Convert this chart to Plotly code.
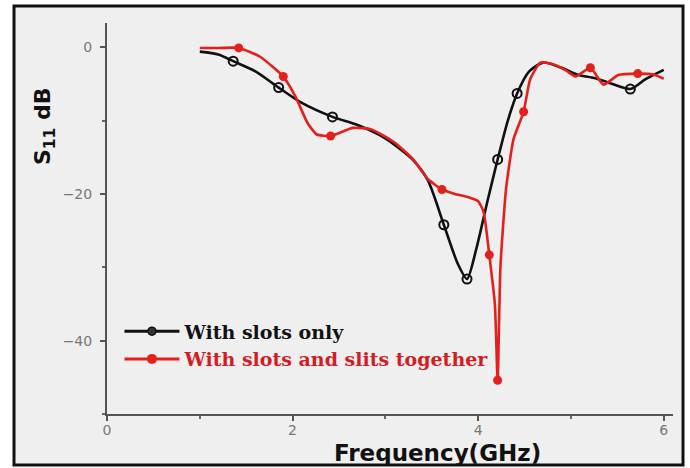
import plotly.graph_objects as go

# ---- data ----
freq_slots = [1.00, 1.20, 1.36, 1.60, 1.85, 2.10, 2.43, 2.70, 2.94, 3.15, 3.30, 3.46,
              3.63, 3.78, 3.88, 3.98, 4.10, 4.21, 4.32, 4.42, 4.55, 4.70, 4.90, 5.08,
              5.25, 5.40, 5.64, 5.80, 6.00]
s11_slots = [-0.6, -1.0, -1.9, -3.3, -5.5, -7.6, -9.5, -10.6, -12.0, -13.8, -15.4, -18.2,
             -24.2, -29.5, -31.6, -27.5, -21.0, -15.3, -10.0, -6.3, -3.3, -2.1, -2.8, -3.8,
             -4.2, -4.8, -5.7, -4.4, -3.1]
marker_idx_slots = [2, 4, 6, 12, 14, 17, 19, 26]

freq_slits = [1.00, 1.20, 1.42, 1.65, 1.90, 2.03, 2.16, 2.26, 2.41, 2.65, 2.85, 3.10,
              3.30, 3.46, 3.61, 3.75, 3.88, 4.00, 4.06, 4.12, 4.18, 4.21, 4.24, 4.30,
              4.38, 4.49, 4.56, 4.67, 4.80, 4.95, 5.05, 5.21, 5.35, 5.51, 5.72, 5.88, 6.00]
s11_slits = [-0.1, -0.1, -0.1, -1.3, -4.0, -6.7, -10.3, -11.9, -12.1, -11.0, -11.2, -13.0,
             -15.3, -18.0, -19.4, -20.0, -20.4, -21.0, -22.5, -28.3, -35.0, -45.4, -30.0, -19.4,
             -12.6, -8.8, -4.4, -2.1, -2.3, -3.2, -4.0, -2.8, -5.1, -3.8, -3.6, -3.7, -4.3]
marker_idx_slits = [2, 4, 8, 14, 19, 21, 25, 31, 34]

name_slots = "With slots only"
name_slits = "With slots and slits together"
x_ticks = [0, 2, 4, 6]
y_ticks = [-40, -20, 0]

BLACK = "#111111"
RED = "#e3201b"

fig = go.Figure()

# curves
fig.add_trace(go.Scatter(x=freq_slots, y=s11_slots, mode="lines",
                         line=dict(color=BLACK, width=2.6, shape="spline", smoothing=0.7),
                         showlegend=False, hoverinfo="skip"))
fig.add_trace(go.Scatter(x=freq_slits, y=s11_slits, mode="lines",
                         line=dict(color=RED, width=2.6, shape="spline", smoothing=0.5),
                         showlegend=False, hoverinfo="skip"))
# markers
fig.add_trace(go.Scatter(x=[freq_slots[i] for i in marker_idx_slots],
                         y=[s11_slots[i] for i in marker_idx_slots], mode="markers",
                         marker=dict(symbol="circle-open", size=9, color=BLACK, line=dict(width=2)),
                         showlegend=False))
fig.add_trace(go.Scatter(x=[freq_slits[i] for i in marker_idx_slits],
                         y=[s11_slits[i] for i in marker_idx_slits], mode="markers",
                         marker=dict(symbol="circle", size=9, color=RED),
                         showlegend=False))
# legend entries
fig.add_trace(go.Scatter(x=[None], y=[None], mode="lines+markers",
                         line=dict(color=BLACK, width=3),
                         marker=dict(symbol="circle", size=8, color="#333333", line=dict(color=BLACK, width=1.5)),
                         name="<b>" + name_slots + "</b>"))
fig.add_trace(go.Scatter(x=[None], y=[None], mode="lines+markers",
                         line=dict(color=RED, width=3),
                         marker=dict(symbol="circle", size=10, color=RED),
                         name='<b><span style="color:%s">%s</span></b>' % ("#d41c24", name_slits)))

# plot area spans px 107..673 horizontally, 23..414 vertically
fig.update_layout(
    width=690, height=468,
    margin=dict(l=107, r=17, t=23, b=54),
    paper_bgcolor="white",
    plot_bgcolor="rgba(0,0,0,0)",
    font=dict(family="Arial, Liberation Sans, sans-serif", color="#666666"),
    showlegend=True,
    legend=dict(x=0.022, y=0.26, xanchor="left", yanchor="top",
                bgcolor="rgba(0,0,0,0)", borderwidth=0,
                font=dict(family="DejaVu Serif", size=19, color=BLACK),
                itemwidth=55, tracegroupgap=0),
    shapes=[dict(type="rect", xref="paper", yref="paper", layer="below",
                 x0=(14 - 107) / 566, x1=(683 - 107) / 566,
                 y0=(414 - 465) / 391, y1=(414 - 6) / 391,
                 fillcolor="#efefef", line=dict(color="#111111", width=3))],
    annotations=[
        dict(text="<b>S<sub>11</sub> dB</b>", xref="paper", yref="paper",
             x=(44 - 107) / 566, y=(414 - 127) / 391, textangle=-90, showarrow=False,
             xanchor="center", yanchor="middle",
             font=dict(family="DejaVu Sans", size=22, color=BLACK)),
        dict(text="<b>Frequency(GHz)</b>", xref="paper", yref="paper",
             x=(437 - 107) / 566, y=(414 - 453) / 391, showarrow=False,
             xanchor="center", yanchor="middle",
             font=dict(family="DejaVu Sans", size=23, color=BLACK)),
    ],
)

fig.update_xaxes(range=[0, 6.1], tickvals=x_ticks, showgrid=False, zeroline=False,
                 showline=True, linecolor="#555555", linewidth=2,
                 ticks="outside", ticklen=5, tickwidth=2, tickcolor="#555555",
                 ticklabelstandoff=-3,
                 tickfont=dict(family="DejaVu Sans", size=14, color="#777777"),
                 minor=dict(dtick=1, tick0=0, ticks="outside", ticklen=3, tickwidth=2, tickcolor="#666666"))
fig.update_yaxes(range=[-50, 3.3], tickvals=y_ticks, showgrid=False, zeroline=False,
                 showline=True, linecolor="#555555", linewidth=2,
                 ticks="outside", ticklen=5, tickwidth=2, tickcolor="#555555",
                 ticklabelstandoff=5,
                 tickfont=dict(family="DejaVu Sans", size=14, color="#777777"),
                 minor=dict(dtick=10, tick0=0, ticks="outside", ticklen=3, tickwidth=2, tickcolor="#666666"))

fig.write_html("out.html", config={"displayModeBar": False},
               post_script="document.body.style.margin='0';")
